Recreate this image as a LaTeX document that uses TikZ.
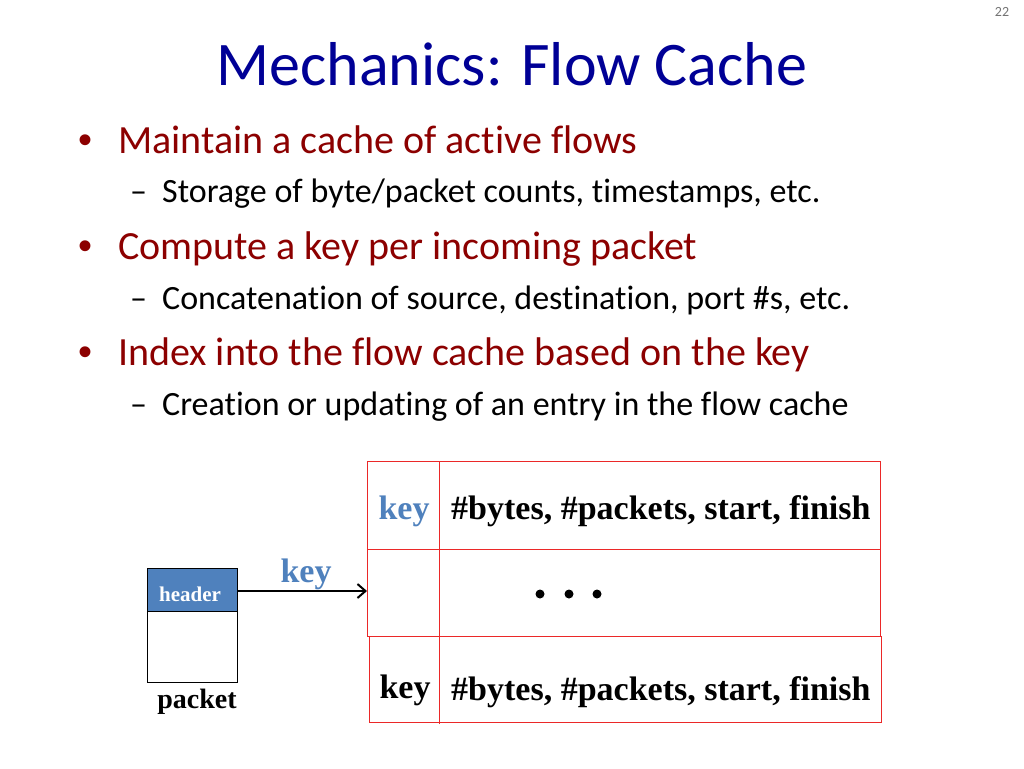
\documentclass[tikz,border=0pt]{standalone}
\usepackage{fontspec}
\setmainfont[Ligatures={NoCommon}]{Carlito}
\newfontfamily\tnr{Liberation Serif}
\newfontfamily\arl{Liberation Sans}
\usetikzlibrary{arrows.meta}
\definecolor{titleblue}{RGB}{0,0,150}
\definecolor{bulletred}{RGB}{140,0,0}
\definecolor{hdrblue}{RGB}{79,129,189}
\definecolor{tablered}{RGB}{235,40,40}
\begin{document}
\begin{tikzpicture}[x=1pt,y=-1pt,
  title/.style={anchor=base,inner sep=0pt,text=titleblue,font=\fontsize{62}{62}\selectfont},
  lvlone/.style={anchor=base west,inner sep=0pt,text=bulletred,font=\fontsize{40}{40}\selectfont},
  bul/.style={anchor=base,inner sep=0pt,text=bulletred,font=\arl\fontsize{40}{40}\selectfont},
  lvltwo/.style={anchor=base west,inner sep=0pt,text=black,font=\fontsize{34}{34}\selectfont},
  cell/.style={draw=tablered,line width=1pt,anchor=north west,inner sep=0pt},
  celltext/.style={inner sep=0pt,font=\tnr\bfseries\fontsize{34}{34}\selectfont},
  conn/.style={line width=2pt,-{Straight Barb[length=8pt,width=14pt,line width=2pt]}}
]
\useasboundingbox[fill=white] (0,0) rectangle (1024,768);
\node[anchor=base,inner sep=0pt,text=black!55,font=\fontsize{14}{14}\selectfont] (pg) at (1002,17) {22};
\node[title] (ttl) at (512,85) {Mechanics: Flow Cache};
% bullets
\node[bul] (b1) at (86,153) {•};
\node[lvlone] (t1) at (118,153) {Maintain a cache of active flows};
\node[lvltwo] (d1) at (130,202) {–};
\node[lvltwo] (s1) at (162,202) {Storage of byte/packet counts, timestamps, etc.};
\node[bul] (b2) at (86,259) {•};
\node[lvlone] (t2) at (118,259) {Compute a key per incoming packet};
\node[lvltwo] (d2) at (130,309) {–};
\node[lvltwo] (s2) at (162,309) {Concatenation of source, destination, port \#s, etc.};
\node[bul] (b3) at (86,365) {•};
\node[lvlone] (t3) at (118,365) {Index into the flow cache based on the key};
\node[lvltwo] (d3) at (130,415) {–};
\node[lvltwo] (s3) at (162,415) {Creation or updating of an entry in the flow cache};
% table
\node[cell,minimum width=513pt,minimum height=88pt] (row1) at (367,461) {};
\node[cell,minimum width=513pt,minimum height=87pt] (row2) at (367,549) {};
\node[cell,minimum width=512pt,minimum height=86pt] (row3) at (369,636) {};
\coordinate (divtop) at (439,461);
\coordinate (divbot) at (439,724);
\draw[draw=tablered,line width=1pt] (divtop) -- (divbot);
\node[celltext,anchor=base,text=hdrblue] (k1) at (404,519) {key};
\node[celltext,anchor=base west] (v1) at (451,519) {\#bytes, \#packets, start, finish};
\node[celltext,anchor=base] (k3) at (405,698) {key};
\node[celltext,anchor=base west] (v3) at (451,700) {\#bytes, \#packets, start, finish};
\foreach \x in {540,569,597}{
  \fill (\x,594) circle (4.5pt);
}
% packet
\node[cell,draw=black,fill=hdrblue,minimum width=90pt,minimum height=43pt,line width=0.8pt] (hdr) at (147,568) {};
\node[cell,draw=black,minimum width=90pt,minimum height=71pt,line width=0.8pt] (pkt) at (147,611) {};
\node[celltext,anchor=base,text=white,font=\tnr\bfseries\fontsize{21}{21}\selectfont] (hdrt) at (190,601) {header};
\node[celltext,anchor=base,font=\tnr\bfseries\fontsize{28}{28}\selectfont] (pktt) at (197,708) {packet};
\draw[conn] (hdr.east |- 0,591) -- (row2.west |- 0,591);
\node[celltext,anchor=base,text=hdrblue] (klab) at (306,582) {key};
\end{tikzpicture}
\end{document}
